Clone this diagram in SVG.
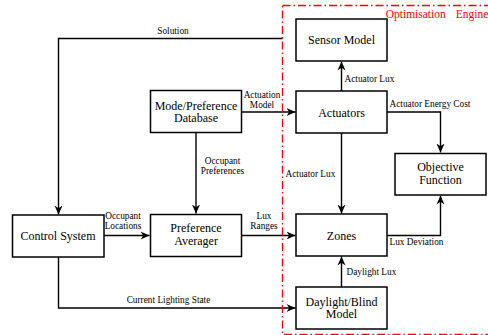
<svg xmlns="http://www.w3.org/2000/svg" width="488" height="335" viewBox="0 0 488 335">
<style>
.box{fill:#fff;stroke:#000;stroke-width:1.5}
.bt{font-family:'Liberation Serif','DejaVu Serif',serif;font-size:12px;fill:#000;text-anchor:middle}
.lb{font-family:'Liberation Serif','DejaVu Serif',serif;font-size:9.3px;fill:#000}
.m{text-anchor:middle}
.c{fill:none;stroke:#000;stroke-width:1.4}
.eng{font-family:'Liberation Serif','DejaVu Serif',serif;font-size:11.5px;fill:#ff0000}
</style>
<defs>
<marker id="ah" viewBox="0 0 10 10" refX="10" refY="5" markerWidth="9" markerHeight="9" markerUnits="userSpaceOnUse" orient="auto">
<path d="M0,0.5 L10,5 L0,9.5 L3,5 z" fill="#000"/>
</marker>
</defs>
<rect width="488" height="335" fill="#fff"/>
<g id="connectors">
<path class="c" d="M282.5,38.5 H58.5 V214.5" marker-end="url(#ah)"/>
<path class="c" d="M242,112 H295.5" marker-end="url(#ah)"/>
<path class="c" d="M196,133 V213.5" marker-end="url(#ah)"/>
<path class="c" d="M104,235.5 H149.5" marker-end="url(#ah)"/>
<path class="c" d="M242,235.5 H295.5" marker-end="url(#ah)"/>
<path class="c" d="M58.5,257 V308 H295.5" marker-end="url(#ah)"/>
<path class="c" d="M341.5,91 V61.5" marker-end="url(#ah)"/>
<path class="c" d="M341.5,133 V213.5" marker-end="url(#ah)"/>
<path class="c" d="M387,112 H440.5 V152.5" marker-end="url(#ah)"/>
<path class="c" d="M387,235.5 H440.5 V195.5" marker-end="url(#ah)"/>
<path class="c" d="M341.5,287 V256.5" marker-end="url(#ah)"/>
<text class="lb m" x="173" y="33.5">Solution</text>
<text class="lb m" x="262" y="97.5">Actuation</text>
<text class="lb m" x="262" y="107.5">Model</text>
<text class="lb m" x="222.5" y="164">Occupant</text>
<text class="lb m" x="222.5" y="174">Preferences</text>
<text class="lb m" x="123" y="218.5">Occupant</text>
<text class="lb m" x="123" y="229">Locations</text>
<text class="lb m" x="264" y="218.5">Lux</text>
<text class="lb m" x="264" y="229">Ranges</text>
<text class="lb m" x="168.5" y="302.5">Current Lighting State</text>
<text class="lb" x="344.5" y="81.5">Actuator Lux</text>
<text class="lb" x="285.5" y="176.5">Actuator Lux</text>
<text class="lb" x="389.5" y="107">Actuator Energy Cost</text>
<text class="lb" x="389.5" y="244.5">Lux Deviation</text>
<text class="lb" x="346.5" y="275">Daylight Lux</text>
</g>
<g id="db"><rect class="box" x="150.5" y="90.5" width="91" height="42"/><text class="bt" x="196" y="109.5">Mode/Preference</text><text class="bt" x="196" y="122">Database</text></g>
<g id="sensor"><rect class="box" x="296" y="19" width="91" height="42"/><text class="bt" x="341.5" y="44">Sensor Model</text></g>
<g id="actuators"><rect class="box" x="296" y="91" width="91" height="42"/><text class="bt" x="341.5" y="116.5">Actuators</text></g>
<g id="objective"><rect class="box" x="395" y="153.5" width="91" height="41.5"/><text class="bt" x="440.5" y="171">Objective</text><text class="bt" x="440.5" y="184">Function</text></g>
<g id="zones"><rect class="box" x="296" y="214" width="91" height="42"/><text class="bt" x="341.5" y="239.5">Zones</text></g>
<g id="daylight"><rect class="box" x="296" y="287" width="91" height="42"/><text class="bt" x="341.5" y="305.5">Daylight/Blind</text><text class="bt" x="341.5" y="318">Model</text></g>
<g id="control"><rect class="box" x="12.5" y="215" width="91.5" height="42"/><text class="bt" x="58" y="239.5">Control System</text></g>
<g id="averager"><rect class="box" x="150.5" y="214.5" width="91" height="42"/><text class="bt" x="196" y="231.5">Preference</text><text class="bt" x="196" y="244.5">Averager</text></g>
<g id="engine">
<rect x="282.5" y="5.5" width="220" height="329" fill="none" stroke="#ff0000" stroke-width="1.3" stroke-dasharray="8,3,1.5,3"/>
<text class="eng" y="17.5"><tspan x="385.7">Optimisation</tspan><tspan x="455.7">Engine</tspan></text>
</g>
</svg>
